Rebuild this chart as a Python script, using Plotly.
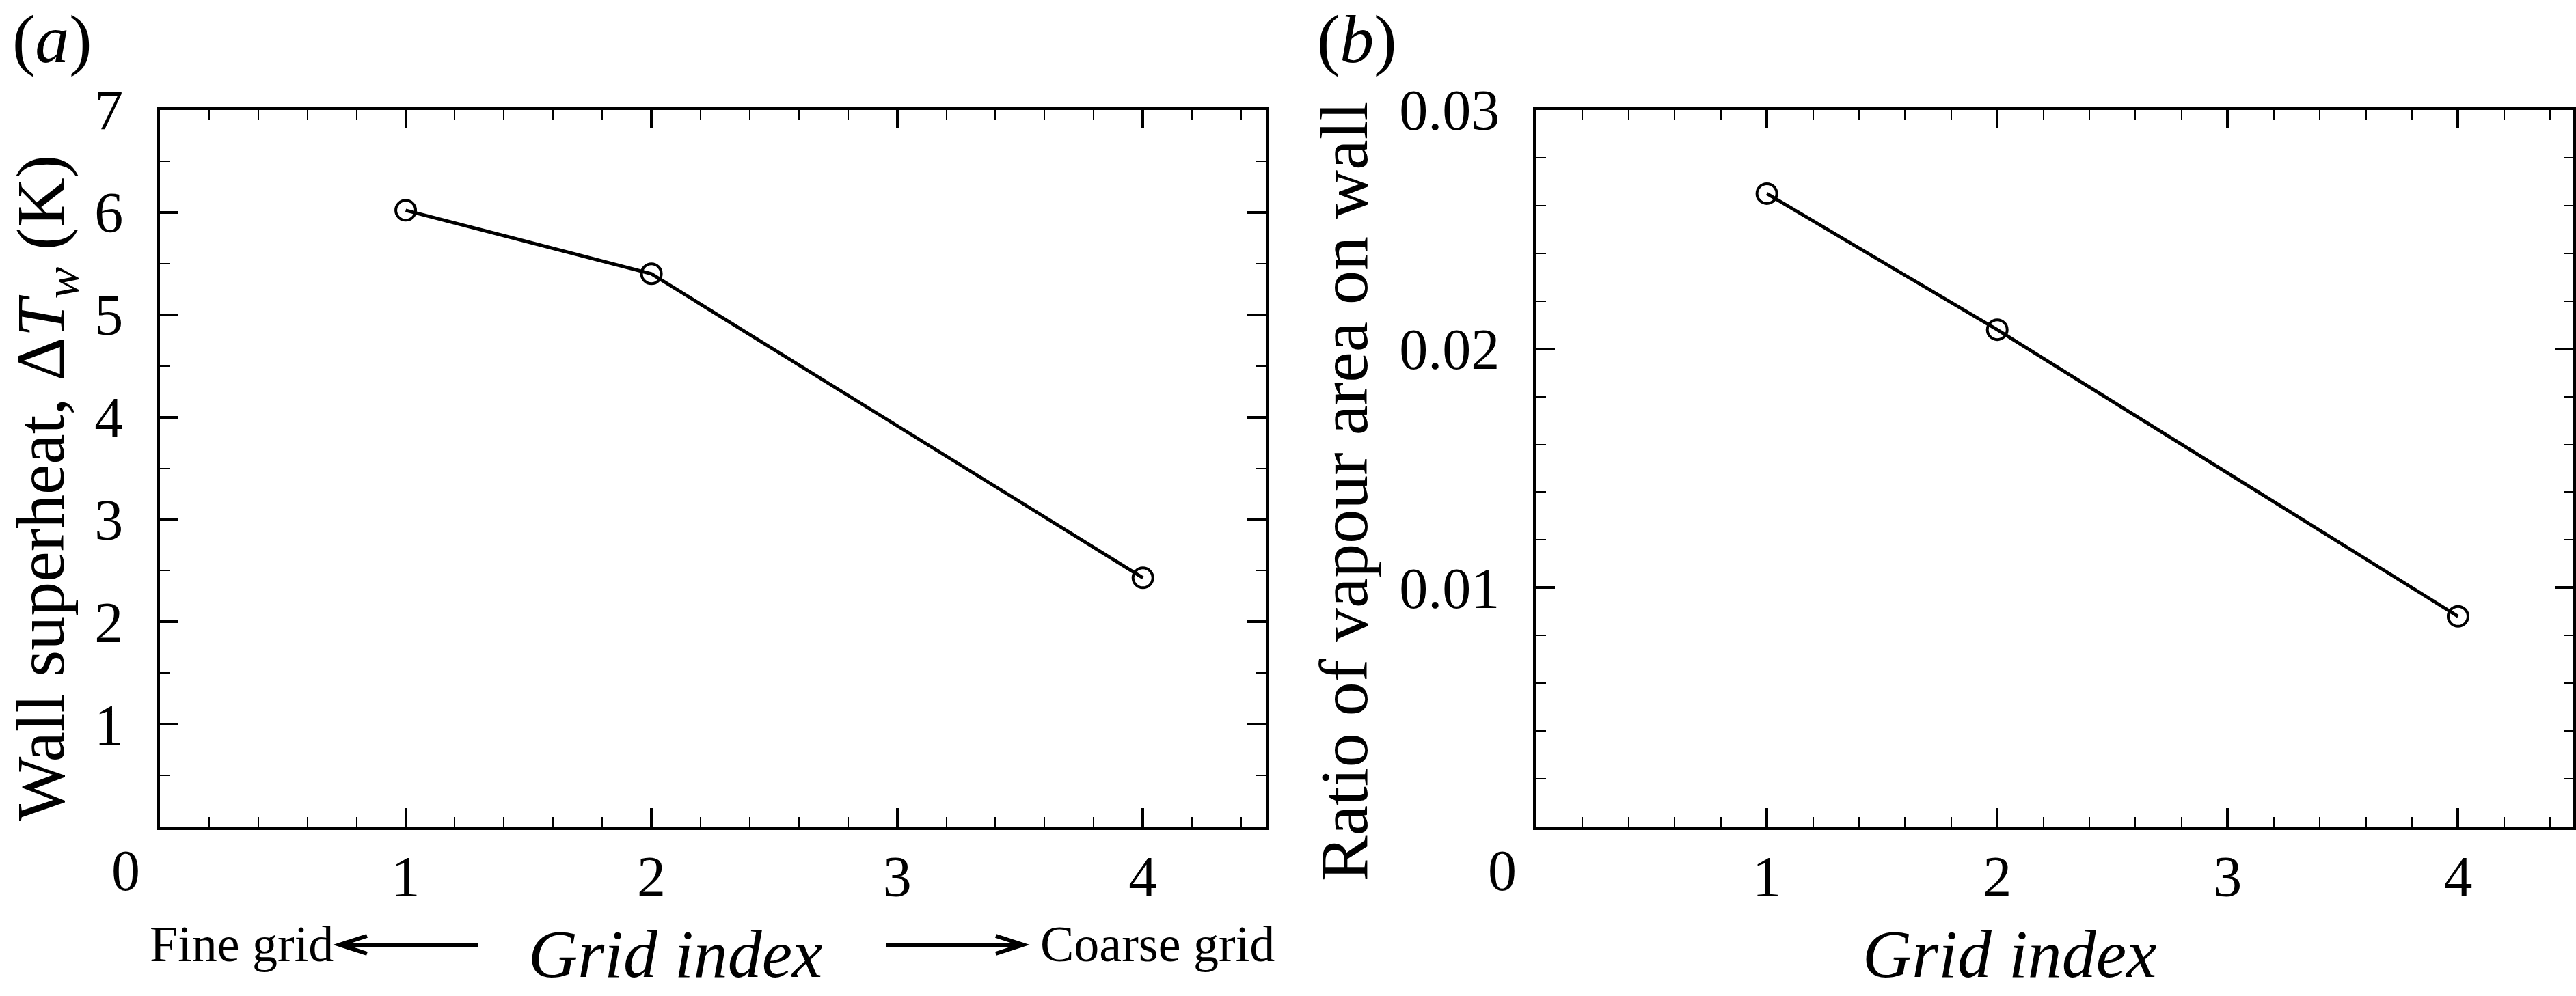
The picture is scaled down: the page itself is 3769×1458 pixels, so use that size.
import plotly.graph_objects as go

# grid-convergence data
grid_index = [1, 2, 4]
wall_superheat = [6.02, 5.40, 2.43]          # K
vapour_ratio = [0.0265, 0.0208, 0.0088]

x_ticks = [1, 2, 3, 4]
ya_ticks = [1, 2, 3, 4, 5, 6, 7]
yb_ticks = [0.01, 0.02, 0.03]
yb_labels = ["0.01", "0.02", "0.03"]

W, H = 3769, 1458
FONT = "Liberation Serif"


def px(x):
    return x / W


def py(y):
    return 1 - y / H


def axis_style(**kw):
    d = dict(
        showline=True, linecolor="black", linewidth=5, mirror="ticks",
        ticks="inside", ticklen=27, tickwidth=4, tickcolor="black",
        showgrid=False, zeroline=False, automargin=False,
        tickfont=dict(family=FONT, size=84, color="black"),
    )
    d.update(kw)
    return d


line = dict(color="black", width=5)
marker = dict(symbol="circle-open", size=29, color="black", line=dict(width=4, color="black"))

fig = go.Figure()
fig.add_trace(go.Scatter(x=grid_index, y=wall_superheat, mode="lines+markers",
                         line=line, marker=marker, xaxis="x", yaxis="y", showlegend=False))
fig.add_trace(go.Scatter(x=grid_index, y=vapour_ratio, mode="lines+markers",
                         line=line, marker=marker, xaxis="x2", yaxis="y2", showlegend=False))

ydom = [py(1210), py(161)]
x_minor = dict(dtick=0.2, tick0=0, ticks="inside", ticklen=14, tickwidth=2, tickcolor="black")

fig.update_layout(
    template="none",
    width=W, height=H, autosize=False,
    margin=dict(l=0, r=0, t=0, b=0, pad=0),
    paper_bgcolor="white", plot_bgcolor="white",
    xaxis=axis_style(domain=[px(234), px(1852)], range=[0, 4.5], tickvals=x_ticks,
                     minor=x_minor, anchor="y", ticklabelstandoff=-4),
    yaxis=axis_style(domain=ydom, range=[0, 7], tickvals=ya_ticks, anchor="x",
                     minor=dict(dtick=0.5, tick0=0, ticks="inside", ticklen=14,
                                tickwidth=2, tickcolor="black"),
                     ticklabelstandoff=32),
    xaxis2=axis_style(domain=[px(2248), px(3765)], range=[0, 4.5], tickvals=x_ticks,
                      minor=x_minor, anchor="y2", ticklabelstandoff=-4),
    yaxis2=axis_style(domain=ydom, range=[0, 0.03], tickvals=yb_ticks, ticktext=yb_labels,
                      anchor="x2",
                      minor=dict(dtick=0.002, tick0=0, ticks="inside", ticklen=14,
                                 tickwidth=2, tickcolor="black"),
                      ticklabelstandoff=32),
)

tick_font = dict(family=FONT, size=84, color="black")
side_font = dict(family=FONT, size=74, color="black")
title_font = dict(family=FONT, size=100, color="black")

annotations = [
    # shared origin label, sits left of the corner
    dict(text="0", xref="x", x=0, yref="paper", y=py(1274), xshift=-50, font=tick_font),
    dict(text="0", xref="x2", x=0, yref="paper", y=py(1274), xshift=-50, font=tick_font),
    # panel tags
    dict(text="(<i>a</i>)", xref="paper", yref="paper", x=px(76), y=1, yanchor="top",
         font=title_font),
    dict(text="(<i>b</i>)", xref="paper", yref="paper", x=px(1986), y=1, yanchor="top",
         font=title_font),
    # y titles
    dict(text="Wall superheat, Δ<i>T</i><sub><i>w</i></sub> (K)", textangle=-90,
         xref="paper", yref="paper", x=px(66), y=py(715), font=title_font),
    dict(text="Ratio of vapour area on wall", textangle=-90,
         xref="paper", yref="paper", x=px(1966), y=py(720), font=title_font),
    # x titles
    dict(text="<i>Grid index</i>", xref="paper", yref="paper", x=px(988), y=py(1396), font=title_font),
    dict(text="<i>Grid index</i>", xref="paper", yref="paper", x=px(2940), y=py(1396), font=title_font),
    dict(text="Fine grid", xref="paper", yref="paper", x=px(353), y=py(1382), font=side_font),
    dict(text="Coarse grid", xref="paper", yref="paper", x=px(1693), y=py(1382), font=side_font),
]
for a in annotations:
    a.setdefault("showarrow", False)
    a.setdefault("xanchor", "center")
    a.setdefault("yanchor", "middle")
fig.update_layout(annotations=annotations)


# "Fine grid <----" and "----> Coarse grid" arrows under panel (a)
def arrow(x_tail, x_head, y, head=40, half=13):
    d = 1 if x_head > x_tail else -1
    shaft = dict(type="line", xref="paper", yref="paper",
                 x0=px(x_tail), x1=px(x_head - d * 4), y0=py(y), y1=py(y),
                 line=dict(color="black", width=6))
    tip = dict(type="path", xref="paper", yref="paper",
               path=f"M {px(x_head - d * head)},{py(y - half)} L {px(x_head)},{py(y)} "
                    f"L {px(x_head - d * head)},{py(y + half)}",
               line=dict(color="black", width=6))
    return [shaft, tip]


fig.update_layout(shapes=arrow(700, 497, 1383) + arrow(1297, 1497, 1383))

fig.write_html("out.html", config={"displayModeBar": False},
               post_script="document.body.style.margin='0px';")
